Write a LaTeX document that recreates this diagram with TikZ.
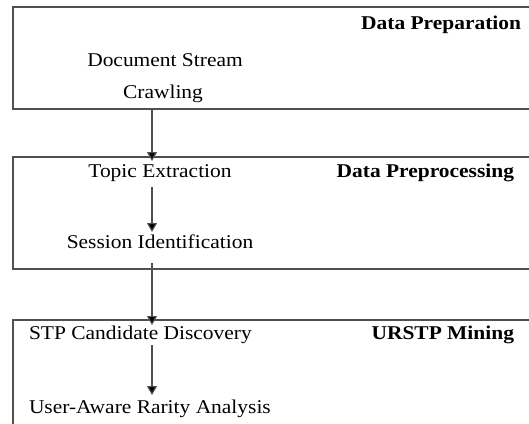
\documentclass[tikz,border=0pt]{standalone}
\usepackage{fontspec}
\setmainfont[FakeStretch=1.1]{Liberation Serif}
\usetikzlibrary{arrows.meta}
\definecolor{linegray}{HTML}{505050}
\begin{document}
\begin{tikzpicture}[x=1pt,y=-1pt,
  font=\fontsize{19.5}{23}\selectfont,
  stagebox/.style={draw=linegray, line width=1.2pt, rectangle, inner sep=0pt, outer sep=0pt, anchor=north west, minimum width=532pt},
  txt/.style={inner sep=0pt, outer sep=0pt, anchor=base},
  txtl/.style={inner sep=0pt, outer sep=0pt, anchor=base west},
  ttl/.style={inner sep=0pt, outer sep=0pt, anchor=base east, font=\fontsize{19.5}{23}\selectfont\bfseries},
  conn/.style={draw=linegray, line width=1.2pt, -{Triangle[width=10pt,length=9pt,fill=black]}}
]
\useasboundingbox (0,0) rectangle (529,423);
% stage boxes
\node[stagebox, minimum height=102pt] (box1) at (13,7) {};
\node[stagebox, minimum height=112pt] (box2) at (13,157) {};
\node[stagebox, minimum height=125pt] (box3) at (13,320) {};
\coordinate (axis) at (152,0);
% texts
\node[ttl] (prep) at (521,29) {Data Preparation};
\node[txt] (doc) at (165,66) {Document Stream};
\node[txt] (crawl) at (163,98) {Crawling};
\node[txt] (topic) at (160,177) {Topic Extraction};
\node[ttl] (preproc) at (514,177) {Data Preprocessing};
\node[txt] (session) at (160,248) {Session Identification};
\node[txtl] (stp) at (29,339) {STP Candidate Discovery};
\node[ttl] (mining) at (514,339) {URSTP Mining};
\node[txtl] (user) at (29,413) {User-Aware Rarity Analysis};
% connectors
\draw[conn, shorten >=-4pt] (box1.south -| axis) -- (box2.north -| axis);
\draw[conn, shorten <=10pt, shorten >=16pt] (topic.base -| axis) -- (session.base -| axis);
\draw[conn, shorten <=-6pt, shorten >=-5pt] (box2.south -| axis) -- (box3.north -| axis);
\draw[conn, shorten <=6pt, shorten >=18pt] (stp.base -| axis) -- (user.base -| axis);
\end{tikzpicture}
\end{document}
